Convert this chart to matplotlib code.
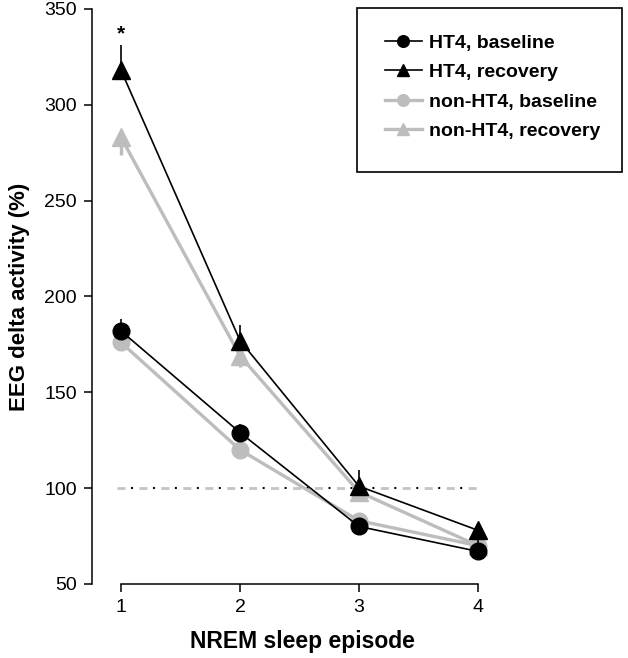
import matplotlib
matplotlib.use("Agg")
import matplotlib.pyplot as plt
from matplotlib.patches import Rectangle

episodes = [1, 2, 3, 4]

ht4_base = [182, 129, 80, 67]
ht4_base_sem = [6, 4.5, 2, 8]
ht4_rec = [318, 177, 101, 78]
ht4_rec_sem = [13, 8, 8.5, 3]
non_base = [176, 120, 83, 70]
non_base_sem = [3, 2, 2, 2]
non_rec = [283, 169, 98, 70]
non_rec_sem = [9, 6, 3, 2]

labels = ["HT4, baseline", "HT4, recovery", "non-HT4, baseline", "non-HT4, recovery"]
xticks = [1, 2, 3, 4]
yticks = [50, 100, 150, 200, 250, 300, 350]

GRAY = "#bdbdbd"
plt.rcParams["font.family"] = ["Liberation Sans", "DejaVu Sans"]
plt.rcParams["lines.scale_dashes"] = False

fig = plt.figure(figsize=(6.28, 6.58), dpi=100)
ax = fig.add_axes([0.1465, 0.1125, 0.624, 0.8739])

# reference line at 100: grey dashes with small black dots in the gaps
ax.plot([0.97, 4.0], [100, 100], color="#c4c4c4", lw=2, linestyle=(0, (5.8, 10)), zorder=1)
ax.plot([0.97, 4.0], [100, 100], color="black", lw=1.5, linestyle=(5.7, (1.4, 14.4)),
        dash_capstyle="butt", zorder=1.1)

handles = []
# grey series first, errors drawn downward
for vals, sem, mk, ms in [(non_base, non_base_sem, "o", 12), (non_rec, non_rec_sem, "^", 13)]:
    ax.errorbar(episodes, vals, yerr=[sem, [0] * 4], fmt="none", ecolor=GRAY, elinewidth=2.4,
                capsize=0, zorder=2)
    h, = ax.plot(episodes, vals, color=GRAY, lw=2.4, marker=mk, ms=ms, mfc=GRAY, mec=GRAY,
                 zorder=3, clip_on=False)
    handles.append(h)
# black series, errors drawn upward
for vals, sem, mk, ms in [(ht4_base, ht4_base_sem, "o", 12), (ht4_rec, ht4_rec_sem, "^", 13)]:
    ax.errorbar(episodes, vals, yerr=[[0] * 4, sem], fmt="none", ecolor="black", elinewidth=1.2,
                capsize=0, zorder=4)
    h, = ax.plot(episodes, vals, color="black", lw=1.2, marker=mk, ms=ms, mfc="black", mec="black",
                 zorder=5, clip_on=False)
    handles.append(h)

ax.text(1, 337, "*", ha="center", va="center", fontsize=15, fontweight="bold")

ax.set_xlim(0.756, 4.05)
ax.set_ylim(50, 350)
for side in ["top", "right"]:
    ax.spines[side].set_visible(False)
for side in ["bottom", "left"]:
    ax.spines[side].set_linewidth(1.1)
ax.spines["bottom"].set_bounds(1, 4)
ax.spines["left"].set_bounds(50, 350)
ax.set_xticks(xticks)
ax.set_yticks(yticks)
ax.tick_params(labelsize=14, length=6, width=1.1, direction="out", pad=5)
ax.set_xlabel("NREM sleep episode", fontsize=16.5, fontweight="bold", labelpad=14)
ax.xaxis.set_label_coords(0.536, -0.1)
ax.xaxis.label.set_va("center")
ax.set_ylabel("EEG delta activity (%)", fontsize=16, fontweight="bold", labelpad=10)

order = [handles[2], handles[3], handles[0], handles[1]]
fig.add_artist(Rectangle((357 / 628, 1 - 172 / 658), 265 / 628, 164 / 658,
                         transform=fig.transFigure, fill=False, lw=1.2, ec="black"))
fig.legend(order, labels, loc="upper left", bbox_to_anchor=(385 / 628, 1 - 34 / 658),
           frameon=False, prop={"weight": "bold", "size": 14}, handlelength=1.9,
           handletextpad=0.36, labelspacing=0.61, borderpad=0, borderaxespad=0, markerscale=0.7)

fig.savefig("out.png", dpi=100)
